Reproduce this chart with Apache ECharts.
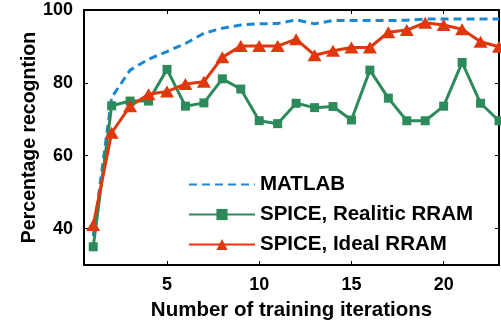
<!DOCTYPE html>
<html><head><meta charset="utf-8">
<script src="https://cdn.jsdelivr.net/npm/echarts@6/dist/echarts.min.js"></script>
<style>html,body{margin:0;padding:0;background:#fff}#c{width:501px;height:328px}</style>
</head><body><div id="c"></div>
<script>
var iterations = [1,2,3,4,5,6,7,8,9,10,11,12,13,14,15,16,17,18,19,20,21,22,23];
var matlab = [38,76,83.5,86.5,88.6,90.8,93.6,95,95.9,96.2,96.3,97.3,96.2,97.1,97.1,97.1,97.1,97.2,97.5,97.5,97.5,97.5,97.5];
var spiceRealistic = [35,73.7,75,75,83.7,73.6,74.5,81.1,78.3,69.6,68.8,74.4,73.2,73.5,69.8,83.5,75.8,69.6,69.6,73.6,85.6,74.4,69.6];
var spiceIdeal = [41,66.3,73.6,76.9,77.6,79.7,80.3,87,90.1,90.1,90.1,92,87.6,88.8,89.7,89.7,93.9,94.5,96.5,95.9,94.7,91.3,89.9];
var xTicks = [5,10,15,20];
var yTicks = [40,60,80,100];
var seriesNames = ['MATLAB','SPICE, Realitic RRAM','SPICE, Ideal RRAM'];

function pairs(v){return iterations.map(function(x,i){return [x,v[i]];});}
var font = 'Liberation Sans, Arial, sans-serif';
var chart = echarts.init(document.getElementById('c'));
var axisLine = {show:true, lineStyle:{color:'#000', width:2}};
chart.setOption({
  animation:false,
  grid:{left:84, top:10, right:2, bottom:63},
  legend:{
    left:183, top:169, orient:'vertical', itemWidth:66, itemHeight:14, itemGap:9,
    textStyle:{fontFamily:font, fontWeight:'bold', fontSize:20.5, color:'#000'},
    data:[{name:seriesNames[0], itemStyle:{opacity:0}}, seriesNames[1], seriesNames[2]]
  },
  xAxis:[{
    type:'value', min:0.5, max:23, position:'bottom',
    name:'Number of training iterations', nameLocation:'middle', nameGap:35,
    nameTextStyle:{fontFamily:font, fontWeight:'bold', fontSize:20.5, color:'#000'},
    axisLine:axisLine, splitLine:{show:false},
    axisTick:{show:true, inside:true, length:4, customValues:xTicks, lineStyle:{color:'#000', width:1}},
    axisLabel:{customValues:xTicks, fontFamily:font, fontWeight:'bold', fontSize:18, color:'#000', margin:11}
  },{
    type:'value', min:0.5, max:23, position:'top',
    axisLine:axisLine, splitLine:{show:false},
    axisTick:{show:true, inside:true, length:4, customValues:xTicks, lineStyle:{color:'#000', width:1}},
    axisLabel:{show:false}
  }],
  yAxis:[{
    type:'value', min:30, max:100, position:'left',
    name:'Percentage recogntion', nameLocation:'middle', nameGap:44, nameMoveOverlap:false,
    nameTextStyle:{fontFamily:font, fontWeight:'bold', fontSize:19.5, color:'#000'},
    axisLine:axisLine, splitLine:{show:false},
    axisTick:{show:true, inside:true, length:4, customValues:yTicks, lineStyle:{color:'#000', width:1}},
    axisLabel:{customValues:yTicks, fontFamily:font, fontWeight:'bold', fontSize:18, color:'#000', margin:11}
  },{
    type:'value', min:30, max:100, position:'right',
    axisLine:axisLine, splitLine:{show:false},
    axisTick:{show:true, inside:true, length:4, customValues:yTicks, lineStyle:{color:'#000', width:1}},
    axisLabel:{show:false}
  }],
  series:[{
    name:seriesNames[0], type:'line', data:pairs(matlab), symbol:'none',
    lineStyle:{color:'#1b87d0', width:3, type:[8,5]}, itemStyle:{color:'#1b87d0'}
  },{
    name:seriesNames[1], type:'line', data:pairs(spiceRealistic), symbol:'rect', symbolSize:9,
    lineStyle:{color:'#2d8a5a', width:3}, itemStyle:{color:'#2d8a5a'}
  },{
    name:seriesNames[2], type:'line', data:pairs(spiceIdeal), symbol:'triangle', symbolSize:[14,12],
    lineStyle:{color:'#e0370c', width:3}, itemStyle:{color:'#e0370c'}
  }]
});
</script></body></html>
